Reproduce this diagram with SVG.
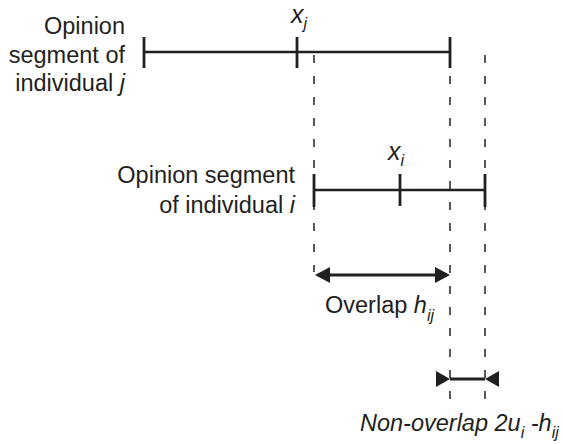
<svg xmlns="http://www.w3.org/2000/svg" width="563" height="444" viewBox="0 0 563 444">
  <style>
    text { font-family: "Liberation Sans", Arial, Helvetica, sans-serif; font-size: 23.5px; fill: #231f20; }
    .it { font-style: italic; }
    .var { font-size: 25px; font-style: italic; }
    .sub { font-size: 16px; font-style: italic; }
    .seg { stroke: #231f20; stroke-width: 2.6; fill: none; }
    .tick { stroke: #231f20; stroke-width: 2.8; fill: none; }
    .guide { stroke: #231f20; stroke-width: 1.5; stroke-dasharray: 8 13; fill: none; }
    .dim { stroke: #231f20; stroke-width: 2.8; fill: none; }
  </style>
  <defs>
    <!-- outward-pointing arrowhead (tip at the ref point) -->
    <marker id="headOut" markerUnits="userSpaceOnUse" markerWidth="1" markerHeight="1" overflow="visible" orient="auto-start-reverse" refX="0" refY="0">
      <path d="M3,0 L-12,-8 L-12,8 Z" fill="#231f20"/>
    </marker>
    <!-- inward-pointing arrowhead (tip at the ref point, body outside) -->
    <marker id="headIn" markerUnits="userSpaceOnUse" markerWidth="1" markerHeight="1" overflow="visible" orient="auto-start-reverse" refX="0" refY="0">
      <path d="M0,0 L14,-8 L14,8 Z" fill="#231f20"/>
    </marker>
  </defs>

  <!-- dashed guide lines -->
  <g id="guides">
    <line class="guide" x1="314" y1="55" x2="314" y2="272"/>
    <line class="guide" x1="450" y1="55" x2="450" y2="400"/>
    <line class="guide" x1="485" y1="55" x2="485" y2="400"/>
  </g>

  <!-- opinion segment of individual j -->
  <g id="segment-j">
    <line class="seg" x1="144" y1="52" x2="450" y2="52"/>
    <line class="tick" x1="144" y1="37" x2="144" y2="68"/>
    <line class="tick" x1="297" y1="37" x2="297" y2="68"/>
    <line class="tick" x1="450" y1="37" x2="450" y2="68"/>
    <text x="125" y="34" text-anchor="end">Opinion</text>
    <text x="125" y="63" text-anchor="end">segment of</text>
    <text x="125" y="91" text-anchor="end">individual <tspan class="it">j</tspan></text>
    <text x="291" y="23" class="var">x<tspan class="sub" dy="6">j</tspan></text>
  </g>

  <!-- opinion segment of individual i -->
  <g id="segment-i">
    <line class="seg" x1="314" y1="190" x2="485" y2="190"/>
    <line class="tick" x1="314" y1="174" x2="314" y2="207"/>
    <line class="tick" x1="400" y1="174" x2="400" y2="206"/>
    <line class="tick" x1="485" y1="174" x2="485" y2="207"/>
    <text x="295" y="183" text-anchor="end">Opinion segment</text>
    <text x="295" y="213" text-anchor="end">of individual <tspan class="it">i</tspan></text>
    <text x="388" y="160" class="var">x<tspan class="sub" dy="6">i</tspan></text>
  </g>

  <!-- dimension arrows -->
  <g id="connectors">
    <line class="dim" x1="318" y1="275" x2="447" y2="275" marker-start="url(#headOut)" marker-end="url(#headOut)"/>
    <line class="dim" x1="450" y1="379" x2="485" y2="379" marker-start="url(#headIn)" marker-end="url(#headIn)"/>
  </g>

  <g id="overlap-label">
    <text x="325" y="313">Overlap <tspan class="it">h</tspan><tspan class="sub" dy="8">ij</tspan></text>
  </g>

  <g id="non-overlap-label">
    <text x="360" y="431" class="it">Non-overlap 2u<tspan class="sub" dy="7">i</tspan><tspan dy="-7"> -h</tspan><tspan class="sub" dy="7">ij</tspan></text>
  </g>
</svg>
